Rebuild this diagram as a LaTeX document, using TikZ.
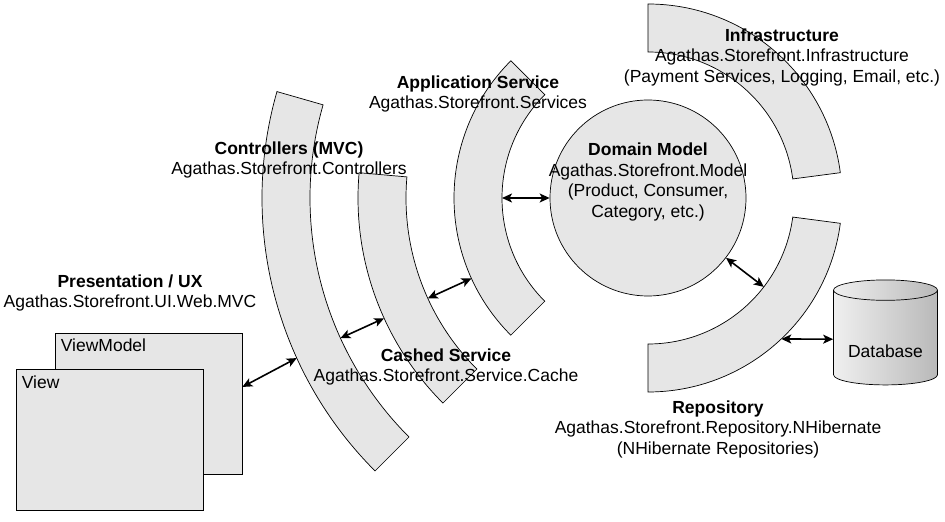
\documentclass[tikz,border=0pt]{standalone}
\usepackage{fontspec}
\setmainfont{Liberation Sans}
\usetikzlibrary{arrows.meta,shapes.geometric}
\definecolor{bandgray}{HTML}{E6E6E6}
\tikzset{
  band/.style={draw=black, fill=bandgray, line width=0.7pt},
  layer/.style={align=center},
  link/.style={{Stealth[length=10pt,width=9pt,inset=2.5pt]}-{Stealth[length=10pt,width=9pt,inset=2.5pt]}, line width=1.6pt},
  box/.style={draw, fill=bandgray, line width=0.7pt, minimum width=187, minimum height=141, inner sep=0},
}

\begin{document}
\begin{tikzpicture}[x=1pt,y=1pt,every node/.style={font=\fontsize{17.5}{20.5}\selectfont}]
\useasboundingbox (0,0) rectangle (945,522);
\coordinate (c) at (648,324);

\draw[band] ([shift={(135:146)}]c) arc[start angle=135, end angle=225, radius=146] -- ([shift={(225:194)}]c) arc[start angle=225, end angle=135, radius=194] -- cycle;
\draw[band] ([shift={(175:242)}]c) arc[start angle=175, end angle=225, radius=242] -- ([shift={(225:290)}]c) arc[start angle=225, end angle=175, radius=290] -- cycle;
\draw[band] ([shift={(164:338)}]c) arc[start angle=164, end angle=225, radius=338] -- ([shift={(225:386)}]c) arc[start angle=225, end angle=164, radius=386] -- cycle;
\draw[band] ([shift={(90:146)}]c) arc[start angle=90, end angle=7.5, radius=146] -- ([shift={(7.5:194)}]c) arc[start angle=7.5, end angle=90, radius=194] -- cycle;
\draw[band] ([shift={(-90:146)}]c) arc[start angle=-90, end angle=-7.5, radius=146] -- ([shift={(-7.5:194)}]c) arc[start angle=-7.5, end angle=-90, radius=194] -- cycle;

\draw (648,324) node (domain) [circle, draw, fill=bandgray, line width=0.7pt, minimum size=196, inner sep=0] {};
\draw (648,340) node (domaintxt) [layer] {\textbf{Domain Model}\\Agathas.Storefront.Model\\(Product, Consumer,\\Category, etc.)};

\draw (148.5,118.5) node (vm) [box, label={[anchor=north west, inner sep=6pt]north west:ViewModel}] {};
\draw (109.5,82) node (view) [box, label={[anchor=north west, inner sep=6pt]north west:View}] {};

\draw (885.5,182.5) node (db) [cylinder, shape border rotate=90, aspect=0.25, minimum width=104, minimum height=105, draw, line width=0.7pt, left color=gray!12, right color=gray!55] {\phantom{Database}};
\draw (885.5,170.5) node (dbtxt) {Database};

\draw (478,428) node (apptxt) [layer] {\textbf{Application Service}\\Agathas.Storefront.Services};
\draw (289,362) node (ctrltxt) [layer] {\textbf{Controllers (MVC)}\\Agathas.Storefront.Controllers};
\draw (130,229) node (prestxt) [layer] {\textbf{Presentation / UX}\\Agathas.Storefront.UI.Web.MVC};
\draw (446,155) node (cachetxt) [layer] {\textbf{Cashed Service}\\Agathas.Storefront.Service.Cache};
\draw (782,465) node (infratxt) [layer] {\textbf{Infrastructure}\\Agathas.Storefront.Infrastructure\\(Payment Services, Logging, Email, etc.)};
\draw (718,93) node (repotxt) [layer] {\textbf{Repository}\\Agathas.Storefront.Repository.NHibernate\\(NHibernate Repositories)};

\coordinate (appin) at ([shift={(180:146)}]c);
\coordinate (appout) at ([shift={(204.5:194)}]c);
\coordinate (cachein) at ([shift={(204.5:242)}]c);
\coordinate (cacheout) at ([shift={(204.5:290)}]c);
\coordinate (ctrlin) at ([shift={(204.5:338)}]c);
\coordinate (ctrlout) at ([shift={(204.5:386)}]c);
\coordinate (repoin) at ([shift={(-37.5:146)}]c);
\coordinate (repoout) at ([shift={(-46.6:194)}]c);

\draw[link] (appin) -- (domain);
\draw[link] (cachein) -- (appout);
\draw[link] (ctrlin) -- (cacheout);
\draw[link] (vm.10) -- (ctrlout);
\draw[link] (domain) -- (repoin);
\draw[link] (repoout) -- (db);
\end{tikzpicture}
\end{document}
